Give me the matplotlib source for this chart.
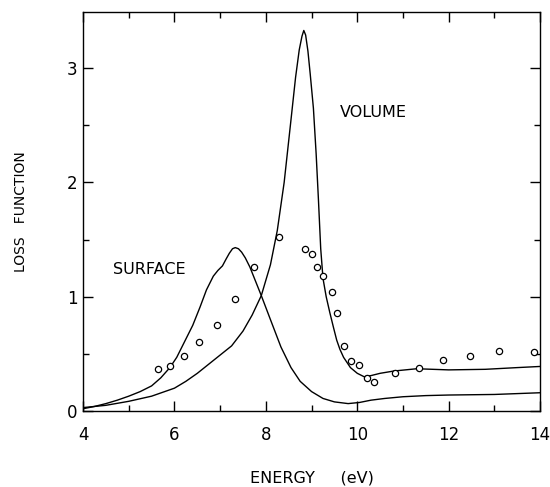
import numpy as np
import matplotlib.pyplot as plt

# volume loss function Im(-1/eps)
e_vol = [4.0, 4.5, 5.0, 5.5, 6.0, 6.25, 6.5, 6.75, 7.0, 7.25, 7.5, 7.7, 7.9, 8.1, 8.25,
         8.4, 8.55, 8.65, 8.73, 8.79, 8.83, 8.87, 8.92, 8.97, 9.04, 9.1, 9.15, 9.2,
         9.25, 9.32, 9.4, 9.48, 9.55, 9.62, 9.7, 9.85, 10.0, 10.15, 10.3, 10.5, 10.8,
         11.3, 12.0, 12.8, 13.5, 14.0]
l_vol = [0.03, 0.05, 0.085, 0.13, 0.20, 0.26, 0.33, 0.41, 0.49, 0.57, 0.70, 0.84, 1.01,
         1.28, 1.58, 2.0, 2.55, 2.92, 3.16, 3.28, 3.33, 3.29, 3.15, 2.95, 2.65, 2.25,
         1.85, 1.42, 1.16, 1.0, 0.86, 0.73, 0.62, 0.54, 0.47, 0.38, 0.33, 0.30, 0.31,
         0.33, 0.35, 0.37, 0.36, 0.365, 0.38, 0.39]

# surface loss function Im(-1/(eps+1))
e_surf = [4.0, 4.25, 4.5, 4.75, 5.0, 5.25, 5.5, 5.7, 5.9, 6.05, 6.2, 6.3, 6.4, 6.56,
          6.7, 6.85, 6.95, 7.05, 7.13, 7.2, 7.27, 7.33, 7.4, 7.47, 7.55, 7.65, 7.77,
          7.9, 8.1, 8.33, 8.55, 8.75, 9.0, 9.25, 9.5, 9.8, 10.05, 10.3, 10.6, 11.0,
          11.5, 12.0, 13.0, 14.0]
l_surf = [0.02, 0.04, 0.065, 0.095, 0.13, 0.17, 0.22, 0.29, 0.38, 0.47, 0.59, 0.67, 0.75,
          0.91, 1.06, 1.18, 1.23, 1.27, 1.33, 1.38, 1.42, 1.43, 1.42, 1.39, 1.34, 1.26,
          1.14, 1.01, 0.80, 0.56, 0.38, 0.26, 0.17, 0.11, 0.08, 0.065, 0.075, 0.095,
          0.11, 0.125, 0.135, 0.14, 0.145, 0.16]

# measured points
e_exp = [5.63, 5.91, 6.21, 6.53, 6.92, 7.32, 7.74, 8.28, 8.85, 9.01, 9.12, 9.26, 9.44,
         9.55, 9.72, 9.87, 10.04, 10.22, 10.36, 10.83, 11.34, 11.87, 12.46, 13.10, 13.86]
l_exp = [0.365, 0.39, 0.48, 0.60, 0.75, 0.98, 1.26, 1.52, 1.42, 1.37, 1.26, 1.18, 1.04,
         0.86, 0.57, 0.44, 0.40, 0.29, 0.25, 0.33, 0.38, 0.45, 0.48, 0.525, 0.52]

plt.rcParams['font.family'] = 'DejaVu Sans'
fig = plt.figure(figsize=(5.5, 4.87), dpi=100)
ax = fig.add_axes([0.151, 0.156, 0.831, 0.819])

ax.plot(e_vol, l_vol, 'k-', lw=1.0)
ax.plot(e_surf, l_surf, 'k-', lw=1.0)
ax.plot(e_exp, l_exp, 'o', mfc='white', mec='k', ms=4.5, mew=0.9)

ax.text(9.62, 2.61, 'VOLUME', fontsize=11.5, va='center')
ax.text(4.65, 1.24, 'SURFACE', fontsize=11.5, va='center')

ax.set_xlim(4, 14)
ax.set_ylim(0, 3.49)
ax.set_xticks([4, 6, 8, 10, 12, 14])
ax.set_xticks(np.arange(5, 14, 2), minor=True)
ax.set_yticks([0, 1, 2, 3])
ax.set_yticks([0.5, 1.5, 2.5], minor=True)
ax.tick_params(which='both', direction='in', top=True, right=True, labelsize=12)
ax.tick_params(which='major', length=7, width=1.0)
ax.tick_params(which='minor', length=4, width=1.0)
ax.tick_params(axis='x', pad=11)
ax.tick_params(axis='y', pad=4)
for s in ax.spines.values():
    s.set_linewidth(1.0)

ax.set_xlabel('ENERGY     (eV)', fontsize=11.5, labelpad=19)
ax.set_ylabel('LOSS   FUNCTION', fontsize=10, labelpad=28,
              family=['Liberation Sans Narrow', 'DejaVu Sans'])

fig.savefig('out.png', dpi=100)
